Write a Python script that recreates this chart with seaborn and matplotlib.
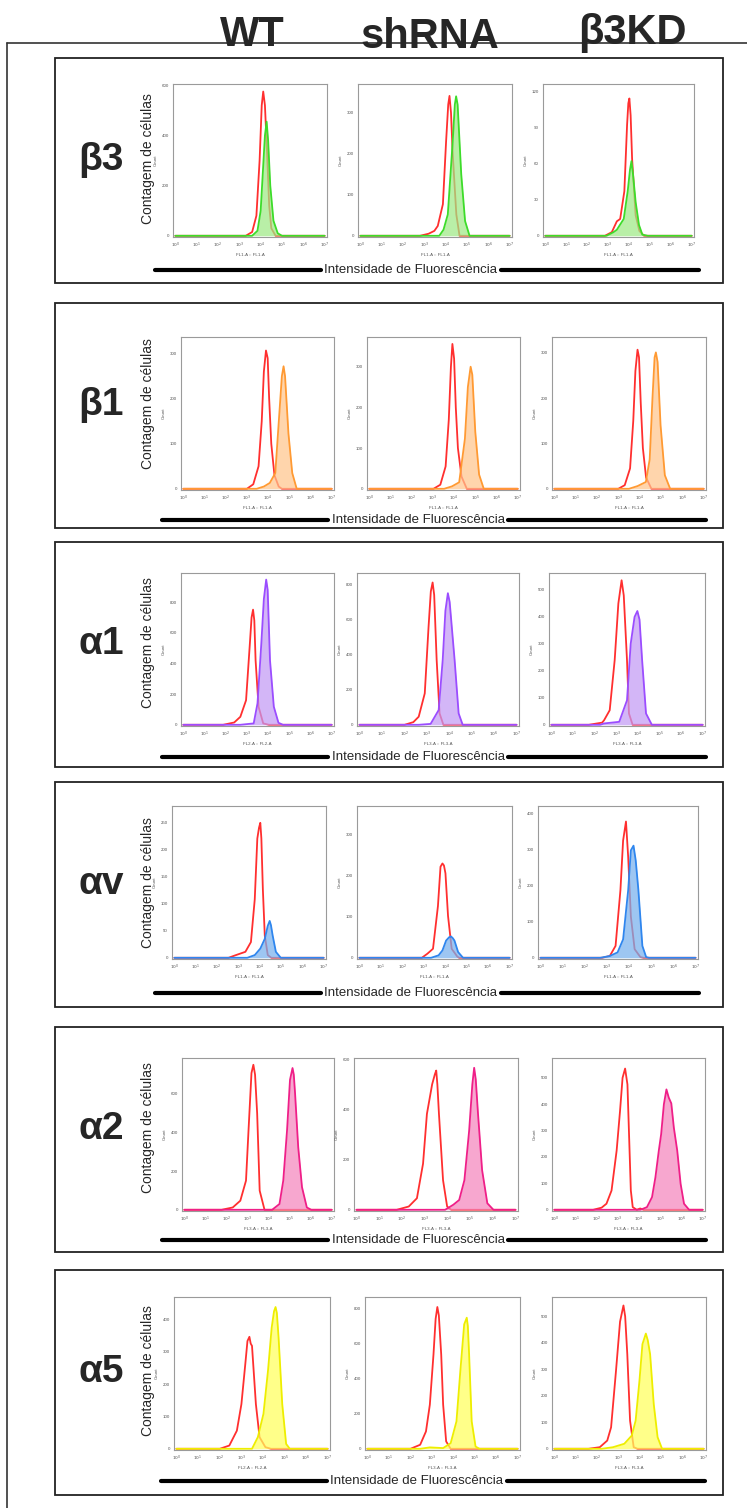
import numpy as np
import pandas as pd
import matplotlib
matplotlib.use("Agg")
import matplotlib.pyplot as plt
import seaborn as sns
from matplotlib.lines import Line2D
from matplotlib.patches import Rectangle

# ==============================
# DATA (log10 intensity, cell count)
# ==============================

col_labels = ["WT", "shRNA", "β3KD"]
row_labels = ["β3", "β1", "α1", "αv", "α2", "α5"]

# beta3
b3_wt_iso = [(3.3, 0), (3.6, 15), (3.8, 80), (3.95, 300), (4.05, 520), (4.12, 575), (4.2, 520), (4.3, 330), (4.4, 120), (4.5, 30), (4.7, 0)]
b3_wt_ab = [(3.6, 0), (3.85, 20), (4.0, 100), (4.1, 250), (4.2, 400), (4.28, 455), (4.35, 380), (4.45, 200), (4.6, 60), (4.8, 10), (5.0, 0)]
b3_sh_iso = [(2.8, 0), (3.2, 5), (3.47, 12), (3.63, 24), (3.87, 77), (4.02, 230), (4.12, 320), (4.18, 341), (4.25, 300), (4.33, 200), (4.5, 52), (4.65, 0)]
b3_sh_ab = [(3.7, 0), (3.9, 15), (4.1, 52), (4.33, 230), (4.43, 320), (4.49, 340), (4.56, 320), (4.73, 150), (4.91, 36), (5.12, 0)]
b3_kd_iso = [(2.85, 0), (3.18, 3), (3.42, 12), (3.58, 14), (3.78, 37), (3.91, 92), (3.97, 110), (4.02, 114), (4.08, 100), (4.15, 64), (4.32, 17), (4.5, 4), (4.72, 0)]
b3_kd_ab = [(2.93, 0), (3.26, 3), (3.42, 5), (3.75, 14), (3.94, 37), (4.05, 55), (4.12, 62), (4.2, 50), (4.32, 28), (4.48, 9), (4.64, 1), (4.9, 0)]

# beta1
b1_wt_iso = [(3.0, 0), (3.3, 10), (3.55, 50), (3.7, 150), (3.8, 260), (3.9, 307), (3.98, 290), (4.05, 200), (4.15, 100), (4.3, 30), (4.5, 5), (4.65, 0)]
b1_wt_ab = [(3.46, 0), (3.8, 5), (4.08, 13), (4.34, 35), (4.52, 160), (4.65, 250), (4.73, 272), (4.8, 250), (4.96, 123), (5.14, 35), (5.35, 0)]
b1_sh_iso = [(3.03, 0), (3.35, 10), (3.6, 55), (3.75, 170), (3.85, 300), (3.92, 356), (4.0, 320), (4.08, 200), (4.18, 100), (4.35, 30), (4.6, 0)]
b1_sh_ab = [(3.53, 0), (3.9, 6), (4.24, 16), (4.51, 123), (4.65, 250), (4.78, 300), (4.86, 280), (5.0, 140), (5.18, 35), (5.4, 0)]
b1_kd_iso = [(3.0, 0), (3.3, 8), (3.55, 45), (3.7, 150), (3.8, 260), (3.9, 307), (3.97, 290), (4.05, 190), (4.15, 90), (4.3, 25), (4.55, 0)]
b1_kd_ab = [(3.5, 0), (3.9, 6), (4.29, 15), (4.47, 65), (4.6, 200), (4.7, 290), (4.76, 301), (4.84, 280), (4.98, 140), (5.18, 30), (5.43, 0)]

# alpha1
a1_wt_iso = [(1.88, 0), (2.4, 15), (2.69, 52), (2.96, 160), (3.14, 530), (3.22, 700), (3.29, 751), (3.35, 680), (3.41, 420), (3.55, 118), (3.77, 9), (4.04, 0)]
a1_wt_ab = [(2.69, 0), (3.32, 9), (3.5, 140), (3.68, 530), (3.8, 820), (3.91, 947), (3.98, 880), (4.09, 420), (4.27, 118), (4.49, 13), (4.7, 0)]
a1_sh_iso = [(2.01, 0), (2.4, 15), (2.64, 46), (2.91, 179), (3.08, 560), (3.18, 760), (3.26, 811), (3.33, 740), (3.44, 370), (3.57, 65), (3.74, 0)]
a1_sh_ab = [(2.64, 0), (3.17, 5), (3.53, 84), (3.71, 370), (3.83, 650), (3.94, 750), (4.02, 700), (4.24, 370), (4.42, 65), (4.6, 0)]
a1_kd_iso = [(1.73, 0), (2.35, 8), (2.44, 17), (2.7, 54), (2.93, 240), (3.1, 450), (3.25, 536), (3.35, 480), (3.5, 240), (3.59, 42), (3.76, 0)]
a1_kd_ab = [(2.26, 0), (2.44, 5), (3.14, 11), (3.5, 91), (3.67, 300), (3.85, 400), (3.98, 422), (4.08, 390), (4.2, 240), (4.38, 42), (4.65, 0)]

# alpha v
av_wt_iso = [(2.54, 0), (2.89, 5), (3.33, 11), (3.59, 29), (3.77, 108), (3.89, 220), (3.97, 240), (4.03, 249), (4.08, 220), (4.15, 126), (4.24, 41), (4.38, 5), (4.55, 0)]
av_wt_ab = [(3.42, 0), (3.77, 5), (4.03, 17), (4.24, 35), (4.38, 59), (4.47, 68), (4.53, 60), (4.61, 41), (4.76, 11), (4.99, 0)]
av_sh_iso = [(2.91, 0), (3.17, 10), (3.43, 22), (3.66, 126), (3.78, 222), (3.87, 230), (3.94, 225), (4.01, 206), (4.13, 102), (4.3, 22), (4.56, 3), (4.65, 0)]
av_sh_ab = [(3.34, 0), (3.69, 6), (3.87, 18), (4.04, 42), (4.18, 50), (4.27, 52), (4.35, 48), (4.43, 42), (4.6, 14), (4.83, 0)]
av_kd_iso = [(2.79, 0), (3.13, 5), (3.39, 33), (3.61, 188), (3.73, 325), (3.86, 378), (3.96, 279), (4.08, 115), (4.25, 24), (4.51, 2), (4.65, 0)]
av_kd_ab = [(2.7, 0), (3.13, 5), (3.48, 15), (3.73, 51), (3.96, 188), (4.08, 298), (4.2, 311), (4.3, 270), (4.42, 188), (4.6, 33), (4.77, 2), (4.9, 0)]

# alpha2
a2_wt_iso = [(1.77, 0), (2.3, 12), (2.66, 47), (2.93, 151), (3.05, 412), (3.19, 708), (3.28, 751), (3.36, 700), (3.46, 499), (3.58, 99), (3.81, 0)]
a2_wt_ab = [(4.17, 0), (4.52, 30), (4.7, 151), (4.88, 412), (5.02, 673), (5.14, 734), (5.2, 700), (5.26, 604), (5.41, 325), (5.59, 117), (5.82, 12), (6.03, 0)]
a2_sh_iso = [(1.77, 0), (2.3, 13), (2.66, 46), (2.93, 184), (3.1, 382), (3.33, 500), (3.45, 540), (3.51, 555), (3.56, 500), (3.63, 382), (3.81, 118), (3.99, 13), (4.17, 0)]
a2_sh_ab = [(3.9, 0), (4.26, 20), (4.52, 39), (4.75, 118), (4.96, 316), (5.1, 500), (5.18, 566), (5.25, 520), (5.35, 382), (5.53, 158), (5.76, 26), (6.03, 0)]
a2_kd_iso = [(1.83, 0), (2.23, 8), (2.46, 23), (2.7, 73), (2.94, 224), (3.1, 374), (3.22, 500), (3.34, 535), (3.45, 475), (3.55, 224), (3.61, 73), (3.7, 10), (3.89, 0), (4.05, 5), (4.21, 0)]
a2_kd_ab = [(4.06, 0), (4.37, 10), (4.61, 48), (4.77, 123), (4.93, 224), (5.04, 286), (5.17, 400), (5.29, 456), (5.4, 425), (5.52, 403), (5.64, 311), (5.8, 224), (5.96, 98), (6.12, 23), (6.36, 0)]

# alpha5
a5_wt_iso = [(2.01, 0), (2.45, 10), (2.8, 56), (3.01, 138), (3.19, 262), (3.29, 333), (3.38, 346), (3.44, 325), (3.5, 318), (3.68, 138), (3.85, 36), (4.12, 5), (4.38, 0)]
a5_wt_ab = [(3.5, 0), (3.77, 36), (4.03, 108), (4.24, 241), (4.41, 374), (4.52, 425), (4.59, 438), (4.65, 420), (4.73, 344), (4.9, 138), (5.08, 15), (5.25, 0)]
a5_sh_iso = [(2.01, 0), (2.46, 23), (2.73, 99), (2.91, 251), (3.08, 537), (3.18, 740), (3.26, 808), (3.33, 760), (3.44, 537), (3.53, 251), (3.67, 42), (3.88, 0)]
a5_sh_ab = [(2.46, 0), (2.91, 8), (3.53, 4), (3.88, 32), (4.15, 156), (4.33, 442), (4.51, 709), (4.63, 747), (4.68, 700), (4.74, 537), (4.86, 156), (5.04, 13), (5.22, 0)]
a5_kd_iso = [(1.6, 0), (2.13, 6), (2.48, 31), (2.66, 81), (2.89, 294), (3.08, 480), (3.24, 541), (3.32, 500), (3.42, 357), (3.55, 106), (3.72, 6), (3.9, 0)]
a5_kd_ab = [(2.22, 0), (2.75, 6), (3.28, 19), (3.63, 50), (3.81, 106), (3.99, 257), (4.13, 395), (4.29, 435), (4.38, 410), (4.49, 357), (4.66, 169), (4.84, 44), (5.05, 0)]

isotype = [
    [b3_wt_iso, b3_sh_iso, b3_kd_iso],
    [b1_wt_iso, b1_sh_iso, b1_kd_iso],
    [a1_wt_iso, a1_sh_iso, a1_kd_iso],
    [av_wt_iso, av_sh_iso, av_kd_iso],
    [a2_wt_iso, a2_sh_iso, a2_kd_iso],
    [a5_wt_iso, a5_sh_iso, a5_kd_iso],
]
stained = [
    [b3_wt_ab, b3_sh_ab, b3_kd_ab],
    [b1_wt_ab, b1_sh_ab, b1_kd_ab],
    [a1_wt_ab, a1_sh_ab, a1_kd_ab],
    [av_wt_ab, av_sh_ab, av_kd_ab],
    [a2_wt_ab, a2_sh_ab, a2_kd_ab],
    [a5_wt_ab, a5_sh_ab, a5_kd_ab],
]

y_top = [[605, 370, 126], [337, 373, 335], [990, 865, 563],
         [280, 370, 421], [786, 605, 575], [469, 865, 573]]
y_step = [[200, 100, 30], [100, 100, 100], [200, 200, 100],
          [50, 100, 100], [200, 200, 100], [100, 200, 100]]
channels = [
    ["FL1-A :: FL1-A"] * 3,
    ["FL1-A :: FL1-A"] * 3,
    ["FL2-A :: FL2-A", "FL3-A :: FL3-A", "FL3-A :: FL3-A"],
    ["FL1-A :: FL1-A"] * 3,
    ["FL3-A :: FL3-A"] * 3,
    ["FL2-A :: FL2-A", "FL3-A :: FL3-A", "FL3-A :: FL3-A"],
]

# ==============================
# STYLE / LAYOUT (pixel positions in the 747x1508 canvas)
# ==============================

iso_color = "#ff2f2f"
line_colors = ["#3ddc2a", "#ff9a33", "#9b4dff", "#2f86ee", "#ef1f88", "#eeee00"]
fill_colors = ["#9fea85", "#ffc58c", "#c29af5", "#78b1ee", "#f585bd", "#ffff5c"]

W, H = 747, 1508
box_top = [58, 303, 542, 782, 1027, 1270]
box_x = (55, 723)
ax_top_off = [26, 34, 31, 24, 31, 27]
rule_off = [212, 217, 215, 211, 213, 211]
caption_x = [411, 418, 418, 411, 418, 417]
col_x = [
    [(173, 327), (358, 512), (543, 694)],
    [(181, 334), (367, 520), (552, 706)],
    [(181, 334), (357, 519), (549, 705)],
    [(172, 326), (357, 512), (538, 698)],
    [(182, 334), (354, 518), (552, 705)],
    [(174, 330), (365, 520), (552, 706)],
]

sns.set_style("white")
plt.rcParams["font.family"] = ["Liberation Sans", "DejaVu Sans"]


def fx(x):
    return x / W


def fy(y):
    return 1 - y / H


def draw_panel(ax, iso, ab, line_c, fill_c, top, step, chan):
    iso_df = pd.DataFrame([(0, 0)] + iso + [(7, 0)], columns=["log_int", "count"])
    ab_df = pd.DataFrame([(0, 0)] + ab + [(7, 0)], columns=["log_int", "count"])

    sns.lineplot(data=iso_df, x="log_int", y="count", sort=False, estimator=None,
                 color=iso_color, lw=1.3, ax=ax, zorder=2)
    ax.fill_between(ab_df["log_int"], ab_df["count"], color=fill_c, alpha=0.72,
                    lw=0, zorder=3)
    sns.lineplot(data=ab_df, x="log_int", y="count", sort=False, estimator=None,
                 color=line_c, lw=1.3, ax=ax, zorder=4)

    ax.set_xlim(-0.11, 7.11)
    ax.set_ylim(-top * 0.008, top)
    ax.set_xticks(range(8))
    ax.set_xticklabels([f"$10^{{{k}}}$" for k in range(8)])
    ax.set_yticks(np.arange(0, top + 1, step))
    ax.tick_params(axis="both", length=1.8, width=0.5, pad=1.2,
                   labelsize=3.2, colors="#555555", direction="out")
    for s in ax.spines.values():
        s.set_color("#9a9a9a")
        s.set_linewidth(0.8)
    ax.set_xlabel(chan, fontsize=3.2, color="#555555", labelpad=2)
    ax.set_ylabel("Count", fontsize=3.2, color="#555555", labelpad=3)


fig = plt.figure(figsize=(W / 100, H / 100), dpi=100)

# outer frame (only top and left edge are inside the canvas)
fig.add_artist(Line2D([fx(7), fx(747)], [fy(43), fy(43)], color="#333333", lw=1.2))
fig.add_artist(Line2D([fx(7), fx(7)], [fy(43), fy(1508)], color="#333333", lw=1.2))

# column titles (they sit on the frame's top edge)
for label, cx, cy in zip(col_labels, [252, 430, 632], [35, 37, 33]):
    fig.text(fx(cx), fy(cy), label, ha="center", va="center",
             fontsize=30, fontweight="bold", zorder=5)

for r, rlabel in enumerate(row_labels):
    t = box_top[r]
    fig.add_artist(Rectangle((fx(box_x[0]), fy(t + 225)), (box_x[1] - box_x[0]) / W,
                             225 / H, fill=False, edgecolor="#222222", lw=1.3))
    fig.text(fx(101), fy(t + 102), rlabel, ha="center", va="center",
             fontsize=28, fontweight="bold")
    fig.text(fx(148), fy(t + 101), "Contagem de células", ha="center", va="center",
             rotation=90, fontsize=10)

    a_top = t + ax_top_off[r]
    for c in range(3):
        x0, x1 = col_x[r][c]
        ax = fig.add_axes([fx(x0), fy(a_top + 153), (x1 - x0) / W, 153 / H])
        draw_panel(ax, isotype[r][c], stained[r][c], line_colors[r], fill_colors[r],
                   y_top[r][c], y_step[r][c], channels[r][c])

    # axis caption with heavy rules either side
    ly = fy(t + rule_off[r])
    cx = caption_x[r]
    fig.add_artist(Line2D([fx(cx - 256), fx(cx - 90)], [ly, ly], color="black", lw=3))
    fig.add_artist(Line2D([fx(cx + 90), fx(cx + 288)], [ly, ly], color="black", lw=3))
    fig.text(fx(cx), ly, "Intensidade de Fluorescência", ha="center", va="center",
             fontsize=9.5)

fig.savefig("out.png", dpi=100)
